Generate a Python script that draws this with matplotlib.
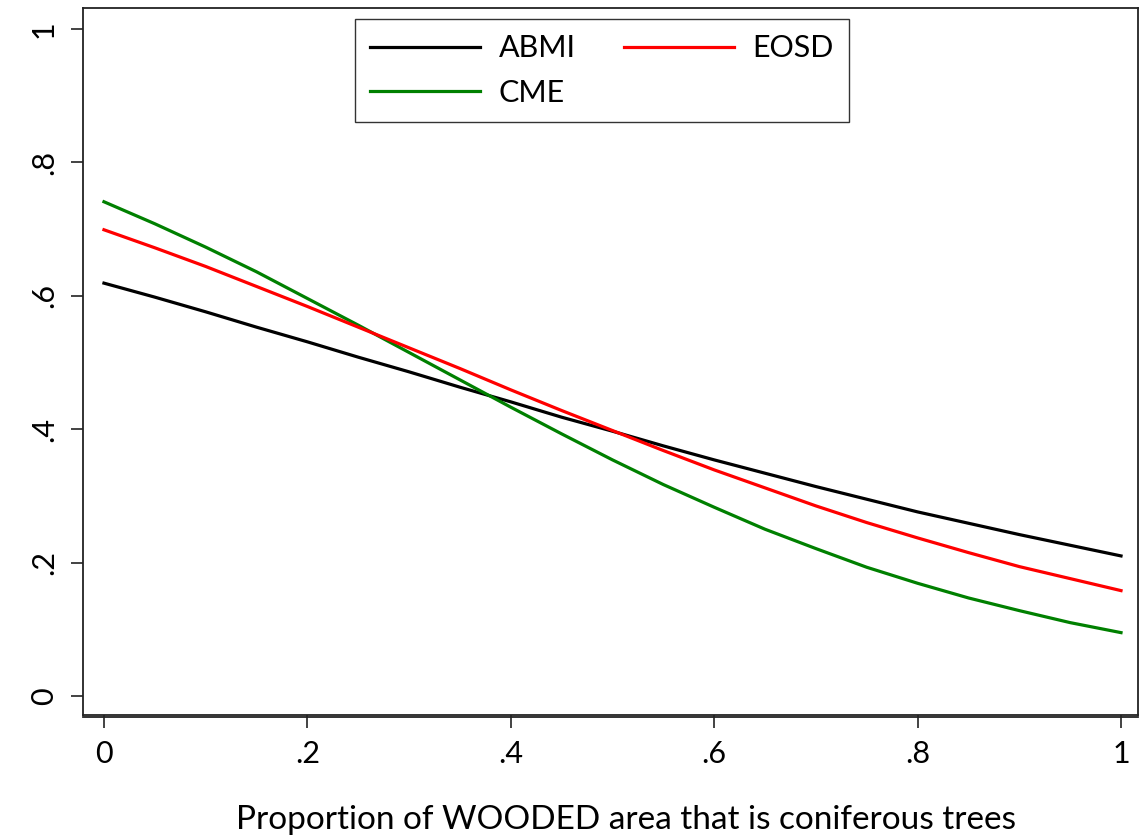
import numpy as np
import matplotlib
matplotlib.use('Agg')
import matplotlib.pyplot as plt

# predicted probability vs proportion coniferous
x = [0, .05, .1, .15, .2, .25, .3, .35, .4, .45, .5,
     .55, .6, .65, .7, .75, .8, .85, .9, .95, 1]
abmi = [.619, .598, .576, .553, .531, .508, .486, .463, .441, .418, .397,
        .375, .354, .334, .314, .295, .276, .259, .242, .226, .210]
eosd = [.699, .672, .644, .614, .584, .553, .522, .491, .459, .428, .398,
        .368, .339, .312, .285, .260, .237, .215, .194, .176, .158]
cme = [.741, .708, .673, .636, .596, .556, .515, .474, .433, .393, .354,
       .317, .283, .250, .221, .193, .169, .147, .128, .110, .095]

ticks = [0, .2, .4, .6, .8, 1]
ticklabels = ['0', '.2', '.4', '.6', '.8', '1']

plt.rcParams['font.family'] = ['Lato', 'DejaVu Sans']

fig = plt.figure(figsize=(11.39, 8.38), dpi=100)
ax = fig.add_axes([83/1139, 1-715/838, (1138-83)/1139, (715-8)/838])

ax.plot(x, abmi, color='black', lw=2.3, label='ABMI')
ax.plot(x, cme, color='#008000', lw=2.3, label='CME')
ax.plot(x, eosd, color='#ff0000', lw=2.3, label='EOSD')

ax.set_xlim(-0.0206, 1.0167)
ax.set_ylim(-0.0285, 1.0315)
ax.set_xticks(ticks)
ax.set_xticklabels(ticklabels)
ax.set_yticks(ticks)
ax.set_yticklabels(ticklabels, rotation=90, va='center')
ax.tick_params(direction='out', length=9, width=1.2, labelsize=22, pad=9, color='#222222')
for s in ax.spines.values():
    s.set_linewidth(1.3)
    s.set_color('#222222')
# stata draws the x axis line just below the plot frame
ax.axhline(-0.0285 - 2.5/667, color='#222222', lw=1.3, clip_on=False)

ax.set_xlabel('Proportion of WOODED area that is coniferous trees', fontsize=24)
ax.xaxis.set_label_coords(0.515, -0.127)

leg = ax.legend(ncol=2, loc='upper center', bbox_to_anchor=(0.492, 1 - 11/707),
                borderaxespad=0, fontsize=22, handlelength=3.6, handletextpad=0.6,
                columnspacing=1.6, fancybox=False, frameon=True, borderpad=0.5,
                labelspacing=0.55)
leg.get_frame().set_edgecolor('black')
leg.get_frame().set_linewidth(1.0)

plt.savefig('out.png', dpi=100)
